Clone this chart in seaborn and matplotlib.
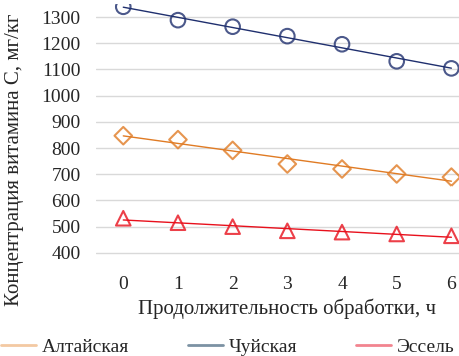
import numpy as np
import matplotlib
matplotlib.use("Agg")
import matplotlib.pyplot as plt
from matplotlib.lines import Line2D
import seaborn as sns

# data
hours = [0, 1, 2, 3, 4, 5, 6]
altai = [847, 832, 791, 739, 720, 701, 689]
chui = [1339, 1288, 1263, 1227, 1196, 1131, 1104]
essel = [532, 515, 500, 484, 479, 472, 465]
names = ["Алтайская", "Чуйская", "Эссель"]

sns.set_style("white")
plt.rcParams['font.family'] = ['Liberation Serif', 'DejaVu Serif']

fig = plt.figure(figsize=(4.59, 3.56), dpi=100)
ax = fig.add_axes([0.209, 0.253, 0.834, 0.736])

series = [
    (altai, "D", "#E07B24", "#F3C9A2"),
    (chui, "o", "#1F2F6E", "#7C92A3"),
    (essel, "^", "#E8101C", "#F2848F"),
]

handles = []
for (vals, mk, col, legcol), name in zip(series, names):
    # trend line drawn by seaborn's regression, points as hollow markers
    sns.regplot(x=hours, y=vals, ci=None, ax=ax, marker=mk, truncate=True,
                scatter_kws=dict(s=110 if mk != "D" else 80, facecolors="none",
                                 edgecolors=col, linewidths=1.5, zorder=3),
                line_kws=dict(color=col, lw=1.0, zorder=2))
    handles.append(Line2D([], [], color=legcol, lw=2, label=name))

ax.set_xlim(-0.5, 6.5)
ax.set_ylim(350, 1350)
ax.set_xticks(hours)
ax.set_yticks(np.arange(400, 1301, 100))
ax.grid(axis="y", color="#D9D9D9", lw=1)
ax.set_axisbelow(True)
for s in ax.spines.values():
    s.set_visible(False)
ax.tick_params(axis="y", labelsize=14, pad=11, length=0)
ax.tick_params(axis="x", labelsize=14, pad=7, length=0)

ax.set_xlabel("Продолжительность обработки, ч", fontsize=15)
ax.set_ylabel("Концентрация витамина С, мг/кг", fontsize=15)
ax.xaxis.set_label_coords(0.5, -0.126)
ax.yaxis.set_label_coords(-0.188, 0.405)

fig.legend(handles=handles, loc="center", bbox_to_anchor=(0.496, 0.025), ncol=3,
           frameon=False, fontsize=14, handlelength=1.8, handletextpad=0.31,
           columnspacing=3.0, borderaxespad=0, borderpad=0)

plt.savefig("out.png", dpi=100)
